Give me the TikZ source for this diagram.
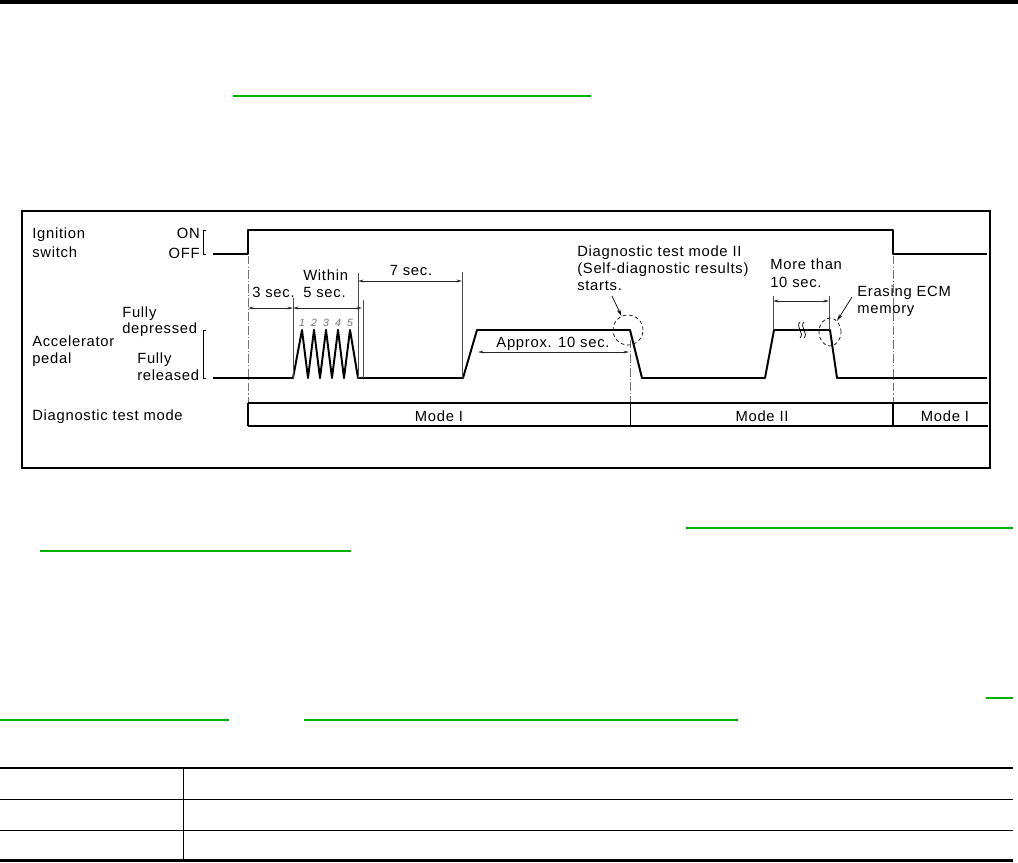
\documentclass[tikz,border=0pt]{standalone}
\usepackage{fontspec}
\newfontfamily\lblfont{Liberation Sans}[LetterSpace=5]
\usetikzlibrary{positioning,arrows.meta,shapes.geometric}
\definecolor{linkgreen}{RGB}{0,178,0}

\begin{document}
\begin{tikzpicture}[x=0.025cm,y=-0.025cm,
      lbl/.style={font=\lblfont\fontsize{10.5}{12}\selectfont,inner sep=0pt,align=left},
      num/.style={font=\lblfont\itshape\fontsize{7.5}{9}\selectfont,inner sep=0pt,black!55,anchor=base},
      sig/.style={line width=1.4pt,line join=round},
      dimline/.style={line width=0.5pt,black!85,{Stealth[length=4pt,width=2pt]}-{Stealth[length=4pt,width=2pt]}},
      extline/.style={line width=0.5pt,black!70},
      cline/.style={line width=0.5pt,black!55,dash pattern=on 6pt off 1.5pt on 1pt off 1.5pt},
      ring/.style={draw,ellipse,inner sep=0pt,line width=0.5pt,dash pattern=on 2.5pt off 2pt},
      lead/.style={line width=0.5pt,-{Stealth[length=5pt,width=2.5pt]}},
      bar/.style={line width=1.2pt},
      link/.style={linkgreen,line width=1.4pt}]
      \useasboundingbox (0,0) rectangle (1018,862);
      % page rules and link underlines
      \fill (0,0) rectangle (1018,4);
      \draw[link] (233,96) -- (591,96);
      \draw[link] (686,528) -- (1013,528);
      \draw[link] (40,551) -- (351,551);
      \draw[link] (986,698) -- (1013,698);
      \draw[link] (0,720) -- (229,720);
      \draw[link] (304,720) -- (738,720);
      \draw[line width=1.5pt] (0,768) -- (1013,768);
      \draw[line width=0.7pt] (0,799) -- (1013,799);
      \draw[line width=0.7pt] (0,830) -- (1013,830);
      \draw[line width=1.5pt] (0,860.5) -- (1013,860.5);
      \draw[line width=0.7pt] (183,768) -- (183,860.5);
      % chart frame
      \draw[line width=1pt] (22,211) rectangle (990,468);
      \node[lbl,anchor=base west] (ign) at (32,257) {Ignition\\[1.5pt]switch};
      \node[lbl,anchor=base east] (on) at (200,238) {ON};
      \node[lbl,anchor=base east] (off) at (200,258) {OFF};
      \draw[line width=0.7pt] (206,230) -| (203,254) -- (206,254);
      \node[lbl,anchor=base west] (acc) at (32,363) {Accelerator\\pedal};
      \node[lbl,anchor=base west] (dep) at (122,333) {Fully\\[-1pt]depressed};
      \node[lbl,anchor=base west] (rel) at (137,380) {Fully\\released};
      \draw[line width=0.7pt] (206,330) -| (203,378) -- (206,378);
      \node[lbl,anchor=base west] (dtm) at (32,420) {Diagnostic test mode};
      % signals
      \draw[sig] (213,254) -- (248,254) -- (248,230) -- (893,230) -- (893,254) -- (987,254);
      \draw[sig] (213,378) -- (293,378) -- (302,330) -- (308,378) -- (314,330) -- (320,378)
        -- (326,330) -- (332,378) -- (338,330) -- (344,378) -- (350,330) -- (358,378)
        -- (463,378) -- (477,330) -- (630,330) -- (642,378) -- (765,378) -- (774,330)
        -- (830,330) -- (837,378) -- (987,378);
      \node[num] (p1) at (302,326) {1};
      \node[num] (p2) at (314,326) {2};
      \node[num] (p3) at (326,326) {3};
      \node[num] (p4) at (338,326) {4};
      \node[num] (p5) at (350,326) {5};
      \draw[line width=0.5pt] (800,322) .. controls (795,327) and (805,333) .. (800,338);
      \draw[line width=0.5pt] (804,322) .. controls (799,327) and (809,333) .. (804,338);
      % time marks
      \draw[cline] (248,256) -- (248,403);
      \draw[cline] (630,340) -- (630,403);
      \draw[cline] (893,256) -- (893,403);
      \draw[extline] (293,298) -- (293,378);
      \draw[extline] (358,273) -- (358,378);
      \draw[extline] (363,300) -- (363,378);
      \draw[extline] (462,272) -- (462,378);
      \draw[extline] (773,296) -- (773,330);
      \draw[extline] (829,296) -- (829,330);
      \draw[dimline] (248,308) -- (293,308);
      \draw[dimline] (293,308) -- (362,308);
      \draw[dimline] (358,281) -- (462,281);
      \draw[dimline] (478,352) -- (629,352);
      \draw[dimline] (773,301) -- (829,301);
      \node[lbl,anchor=base west] (s3) at (252,297) {3 sec.};
      \node[lbl,anchor=base west] (s5) at (303,297) {Within\\5 sec.};
      \node[lbl,anchor=base] (s7) at (411,275) {7 sec.};
      \node[lbl,anchor=base] (s10) at (553,347) {Approx. 10 sec.};
      \node[lbl,anchor=base west] (mt) at (770,287) {More than\\[0.8pt]10 sec.};
      % callouts
      \node[lbl,anchor=base west] (st) at (577,290) {Diagnostic test mode II\\(Self-diagnostic results)\\starts.};
      \node[lbl,anchor=base west] (ecm) at (857,313) {Erasing ECM\\memory};
      \node[ring,minimum width=0.75cm,minimum height=0.75cm] (c1) at (628,330) {};
      \node[ring,minimum width=0.55cm,minimum height=0.7cm] (c2) at (830,332) {};
      \coordinate (t1) at (612,296);
      \coordinate (t2) at (852,297);
      \draw[lead] (t1) -- (c1);
      \draw[lead] (t2) -- (c2);
      % mode bar
      \draw[bar] (248,403) -- (988,403);
      \draw[bar] (248,426) -- (988,426);
      \draw[bar] (248,403) -- (248,426);
      \draw[line width=0.7pt] (630,403) -- (630,426);
      \draw[bar] (893,403) -- (893,426);
      \node[lbl,anchor=base] (m1) at (439,421.5) {Mode I};
      \node[lbl,anchor=base] (m2) at (762,421.5) {Mode II};
      \node[lbl,anchor=base] (m3) at (945,421.5) {Mode I};
    \end{tikzpicture}
\end{document}
